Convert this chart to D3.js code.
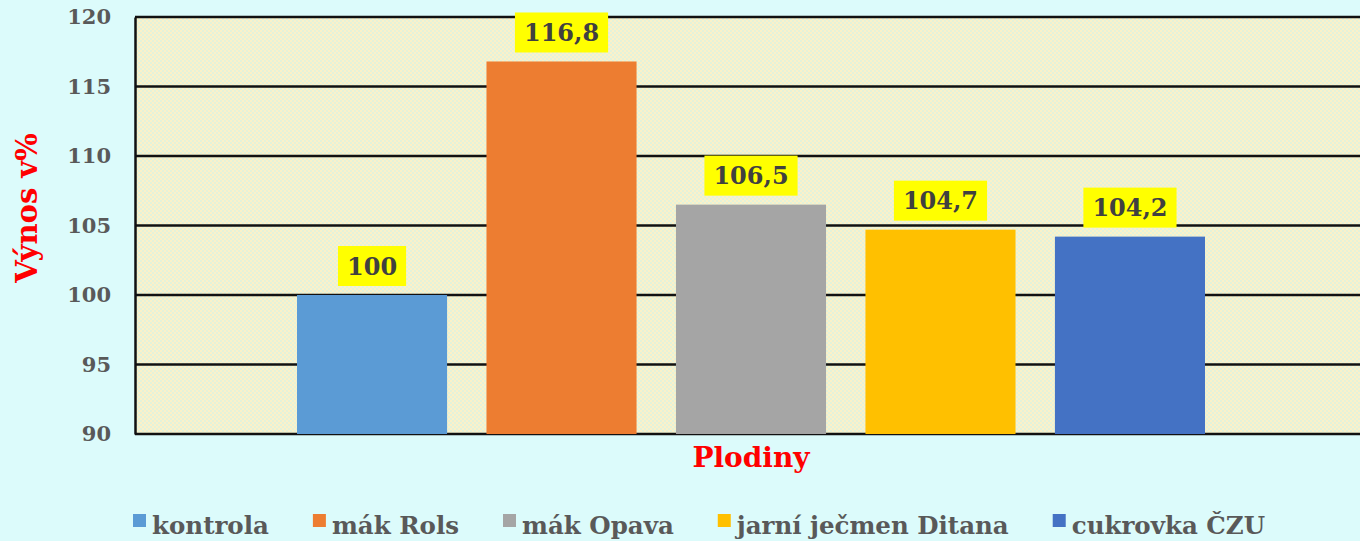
<!DOCTYPE html>
<html>
<head>
<meta charset="utf-8">
<script src="https://cdn.jsdelivr.net/npm/d3@7"></script>
<style>
  body { margin: 0; background: #dcfbfb; }
  svg { display: block; }
</style>
</head>
<body>
<svg id="chart" width="1360" height="541"></svg>
<script>
const series = ["kontrola", "mák Rols", "mák Opava", "jarní ječmen Ditana", "cukrovka ČZU"];
const values = [100, 116.8, 106.5, 104.7, 104.2];
const labels = ["100", "116,8", "106,5", "104,7", "104,2"];
const colors = ["#5b9bd5", "#ed7d31", "#a5a5a5", "#ffc000", "#4472c4"];
const yTicks = [90, 95, 100, 105, 110, 115, 120];

const FONT = "'DejaVu Serif', serif";
const plot = { left: 135, right: 1367, top: 17, bottom: 434 };

const svg = d3.select("#chart");

// checker pattern for plot area
const defs = svg.append("defs");
const pat = defs.append("pattern")
    .attr("id", "checks")
    .attr("width", 4).attr("height", 4)
    .attr("patternUnits", "userSpaceOnUse");
pat.append("rect").attr("width", 4).attr("height", 4).attr("fill", "#fbf1c9");
pat.append("rect").attr("width", 2).attr("height", 2).attr("fill", "#e4f2da");
pat.append("rect").attr("x", 2).attr("y", 2).attr("width", 2).attr("height", 2).attr("fill", "#e4f2da");

svg.append("rect")
    .attr("x", plot.left).attr("y", plot.top)
    .attr("width", plot.right - plot.left).attr("height", plot.bottom - plot.top)
    .attr("fill", "url(#checks)");

const y = d3.scaleLinear().domain([90, 120]).range([plot.bottom, plot.top]);
const x = d3.scaleBand().domain(series).range([297, 1205]).paddingInner(0.208);

// gridlines
svg.append("g")
    .selectAll("line")
    .data(yTicks)
    .join("line")
    .attr("x1", plot.left).attr("x2", plot.right)
    .attr("y1", d => y(d)).attr("y2", d => y(d))
    .attr("stroke", "#111").attr("stroke-width", 2.5);

// y axis
const yAxis = svg.append("g")
    .attr("transform", `translate(${plot.left},0)`)
    .call(d3.axisLeft(y).tickValues(yTicks).tickSize(0).tickPadding(24));
yAxis.select(".domain").attr("stroke", "#111").attr("stroke-width", 2.5);
yAxis.selectAll("text")
    .attr("fill", "#595959")
    .style("font-family", FONT)
    .style("font-weight", "bold")
    .style("font-size", "21px");

// bars
svg.append("g")
    .selectAll("rect")
    .data(series)
    .join("rect")
    .attr("x", d => x(d))
    .attr("width", x.bandwidth())
    .attr("y", (d, i) => y(values[i]))
    .attr("height", (d, i) => y(90) - y(values[i]))
    .attr("fill", (d, i) => colors[i]);

// data labels
const lab = svg.append("g")
    .selectAll("g")
    .data(series)
    .join("g")
    .attr("transform", (d, i) => `translate(${x(d) + x.bandwidth() / 2},${y(values[i]) - 29})`);
lab.append("text")
    .attr("text-anchor", "middle")
    .attr("dy", "0.36em")
    .attr("fill", "#404040")
    .style("font-family", FONT)
    .style("font-weight", "bold")
    .style("font-size", "24px")
    .text((d, i) => labels[i]);
lab.each(function () {
    const g = d3.select(this);
    const w = g.select("text").node().getComputedTextLength();
    g.insert("rect", "text")
        .attr("x", -w / 2 - 9).attr("y", -20)
        .attr("width", w + 18).attr("height", 40)
        .attr("fill", "#ffff00");
});

// axis titles
svg.append("text")
    .attr("x", 751)
    .attr("y", 467)
    .attr("text-anchor", "middle")
    .attr("fill", "#ff0000")
    .style("font-family", FONT)
    .style("font-weight", "bold")
    .style("font-size", "28px")
    .text("Plodiny");

svg.append("text")
    .attr("transform", "translate(37,208) rotate(-90)")
    .attr("text-anchor", "middle")
    .attr("fill", "#ff0000")
    .style("font-family", FONT)
    .style("font-weight", "bold")
    .style("font-size", "29px")
    .text("Výnos v%");

// legend
const legend = svg.append("g").attr("transform", "translate(133,527)");
let lx = 0;
series.forEach((s, i) => {
    const item = legend.append("g").attr("transform", `translate(${lx},0)`);
    item.append("rect")
        .attr("x", 0).attr("y", -13)
        .attr("width", 13).attr("height", 13)
        .attr("fill", colors[i]);
    const t = item.append("text")
        .attr("x", 19).attr("y", 0)
        .attr("dy", "0.3em")
        .attr("fill", "#595959")
        .style("font-family", FONT)
        .style("font-weight", "bold")
        .style("font-size", "24.5px")
        .text(s);
    lx += 19 + t.node().getComputedTextLength() + 44;
});
</script>
</body>
</html>
